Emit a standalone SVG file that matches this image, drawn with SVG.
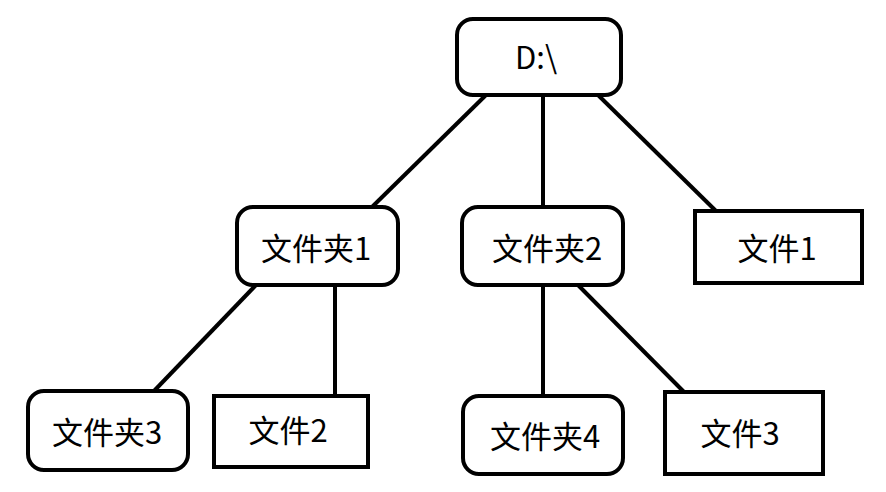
<svg xmlns="http://www.w3.org/2000/svg" width="886" height="492" viewBox="0 0 886 492">
<style>
.box{fill:#fff;stroke:#000;stroke-width:4}
.edge{stroke:#000;stroke-width:4;fill:none}
text{font-family:"Microsoft YaHei","Noto Sans CJK SC",sans-serif;font-size:31px;fill:#000;text-anchor:middle}
</style>
<rect width="886" height="492" fill="#fff"/>
<g id="connectors">
<line class="edge" x1="486" y1="95" x2="372" y2="207"/>
<line class="edge" x1="543" y1="95" x2="543" y2="207"/>
<line class="edge" x1="598" y1="95" x2="716" y2="211"/>
<line class="edge" x1="256" y1="285" x2="154" y2="391"/>
<line class="edge" x1="335" y1="285" x2="335" y2="396"/>
<line class="edge" x1="543" y1="285" x2="543" y2="396"/>
<line class="edge" x1="578" y1="285" x2="684" y2="392"/>
</g>
<g id="root"><rect class="box" x="457" y="19" width="164" height="76" rx="16"/><text x="536" y="69">D:\</text></g>
<g id="folder1"><rect class="box" x="237" y="207" width="161" height="78" rx="16"/><text x="316" y="260">文件夹1</text></g>
<g id="folder2"><rect class="box" x="462" y="207" width="161" height="78" rx="16"/><text x="547" y="260">文件夹2</text></g>
<g id="file1"><rect class="box" x="695" y="211" width="167" height="72"/><text x="777" y="260">文件1</text></g>
<g id="folder3"><rect class="box" x="28" y="391" width="160" height="79" rx="16"/><text x="107" y="444">文件夹3</text></g>
<g id="file2"><rect class="box" x="214" y="396" width="154" height="71"/><text x="288" y="442">文件2</text></g>
<g id="folder4"><rect class="box" x="463" y="396" width="160" height="78" rx="16"/><text x="545" y="448">文件夹4</text></g>
<g id="file3"><rect class="box" x="665" y="392" width="158" height="82"/><text x="740" y="445">文件3</text></g>
</svg>
